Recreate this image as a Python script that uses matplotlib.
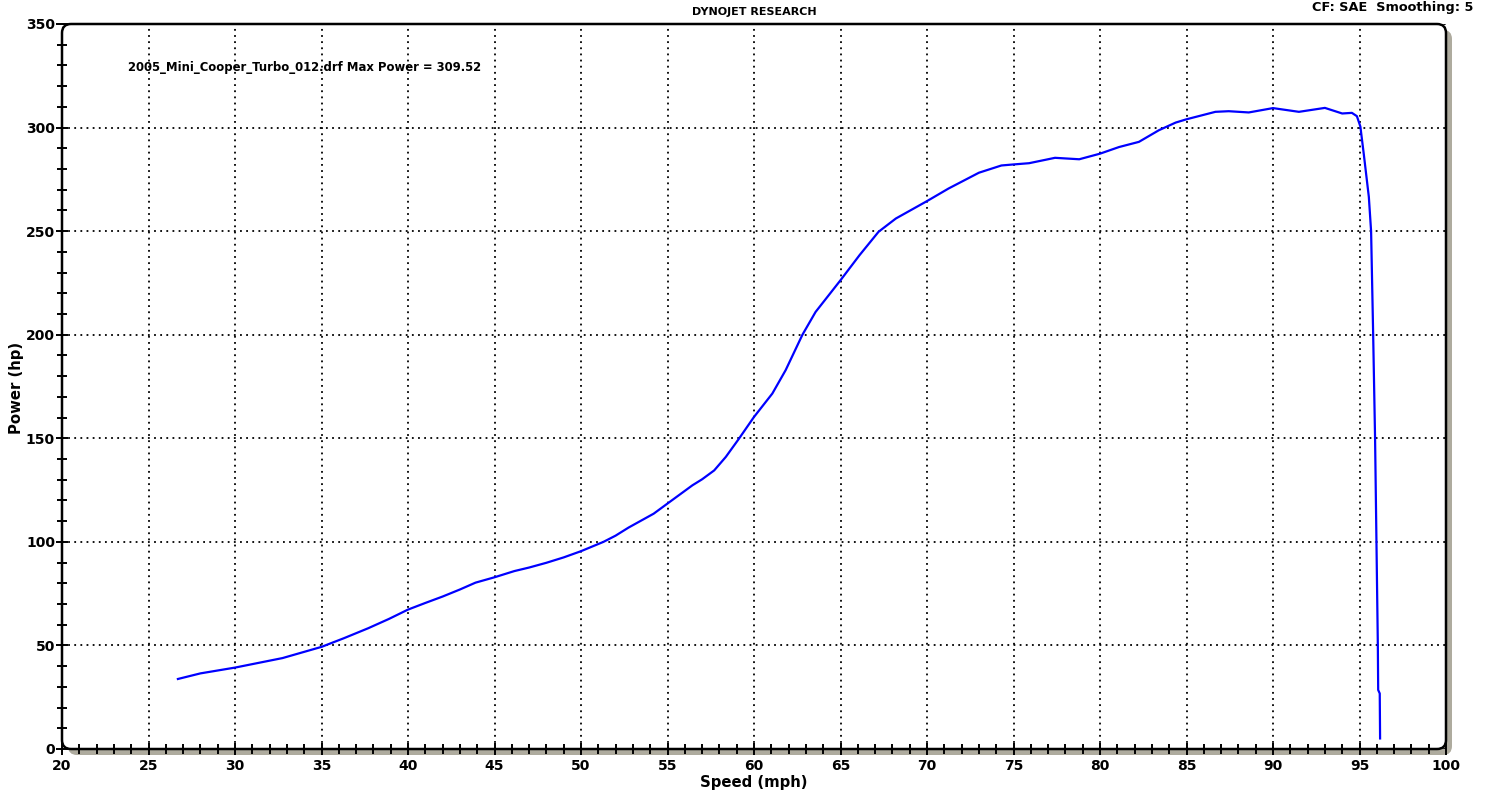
import matplotlib
matplotlib.use('Agg')
import matplotlib.pyplot as plt
import matplotlib.patches as mpatches
import matplotlib.transforms as mtransforms
from matplotlib.ticker import MultipleLocator

# speed (mph) vs power (hp)
speed = [26.7, 28.0, 30.0, 32.75, 35.0, 36.3, 37.7, 38.9, 40.0, 41.0,
         42.0, 43.0, 43.9, 45.0, 46.15, 47.0, 48.0, 49.0, 50.0, 51.3,
         52.0, 52.75, 54.2, 55.0, 56.44, 57.0, 57.7, 58.37, 59.13, 60.0,
         61.06, 61.83, 62.8, 63.56, 65.0, 66.1, 67.2, 68.2, 70.0, 71.25,
         73.0, 74.3, 75.0, 75.9, 77.4, 78.8, 80.0, 81.1, 82.25, 83.4,
         84.37, 85.0, 86.67, 87.44, 88.6, 90.0, 91.5, 93.0, 94.0, 94.56,
         94.85, 95.05, 95.25, 95.54, 95.67, 95.79, 95.9, 95.98, 96.06, 96.08,
         96.17, 96.19]
power = [33.8, 36.5, 39.3, 43.9, 49.3, 53.5, 58.3, 62.8, 67.3, 70.5,
         73.6, 77.0, 80.3, 82.9, 85.9, 87.6, 89.9, 92.5, 95.5, 100.0,
         103.0, 106.9, 113.6, 118.5, 127.3, 130.2, 134.5, 141.0, 149.8, 160.3,
         171.6, 182.9, 200.0, 211.0, 226.3, 238.4, 249.7, 256.1, 264.5, 270.6,
         278.2, 281.7, 282.2, 282.8, 285.4, 284.7, 287.4, 290.6, 293.1, 298.7,
         302.4, 304.0, 307.6, 307.9, 307.3, 309.4, 307.6, 309.5, 306.8, 307.1,
         305.5, 300.5, 287.0, 266.5, 250.0, 200.0, 150.0, 100.0, 50.0, 28.5,
         26.8, 5.1]

run_name = '2005_Mini_Cooper_Turbo_012.drf'
max_power = 309.52

W, H = 1486, 795
fig = plt.figure(figsize=(W / 100, H / 100), dpi=100)
# axes box in pixels: x 62..1446, y 24..749 (from top)
x0, x1, ytop, ybot = 62, 1446, 24, 749
ax = fig.add_axes([x0 / W, 1 - ybot / H, (x1 - x0) / W, (ybot - ytop) / H])
ax.set_facecolor('none')

ax.plot(speed, power, color='#0000ff', lw=1.6, zorder=2, clip_on=False)

ax.set_xlim(20, 100)
ax.set_ylim(0, 350)
ax.xaxis.set_major_locator(MultipleLocator(5))
ax.xaxis.set_minor_locator(MultipleLocator(1))
ax.yaxis.set_major_locator(MultipleLocator(50))
ax.yaxis.set_minor_locator(MultipleLocator(10))
ax.grid(True, which='major', color='black', linestyle=(0, (1, 2.4)), lw=1.3)

ax.tick_params(which='both', direction='inout', color='black', width=1.4,
               top=False, right=False)
ax.tick_params(which='major', length=8, labelsize=10)
ax.tick_params(which='minor', length=7)
ax.tick_params(axis='x', which='major', pad=3)
ax.tick_params(axis='y', which='major', pad=1)
for lab in ax.get_xticklabels() + ax.get_yticklabels():
    lab.set_fontweight('bold')
for s in ax.spines.values():
    s.set_visible(False)

# rounded frame with grey drop shadow, drawn in pixel coords
ident = mtransforms.IdentityTransform()
bx, by, bw, bh = x0, H - ybot, x1 - x0, ybot - ytop
shadow = mpatches.FancyBboxPatch((bx + 6, by - 6), bw, bh,
                                 boxstyle='round,pad=0,rounding_size=9',
                                 fc='#aeab9e', ec='none', transform=ident,
                                 clip_on=False, zorder=0)
face = mpatches.FancyBboxPatch((bx, by), bw, bh,
                               boxstyle='round,pad=0,rounding_size=9',
                               fc='white', ec='none', transform=ident,
                               clip_on=False, zorder=0.1)
frame = mpatches.FancyBboxPatch((bx, by), bw, bh,
                                boxstyle='round,pad=0,rounding_size=9',
                                fc='none', ec='black', lw=1.8, transform=ident,
                                clip_on=False, zorder=3)
for p in (shadow, face, frame):
    ax.add_patch(p)

fig.text(754 / W, 1 - 782 / H, 'Speed (mph)', ha='center', va='center',
         fontsize=10.7, fontweight='bold')
fig.text(17 / W, 1 - 388 / H, 'Power (hp)', ha='center', va='center',
         rotation=90, fontsize=10.7, fontweight='bold')

fig.text(754 / W, 1 - 12 / H, 'DYNOJET RESEARCH', ha='center', va='center',
         fontsize=8, fontweight='bold')
fig.text(1473 / W, 1 - 8 / H, 'CF: SAE  Smoothing: 5', ha='right', va='center',
         fontsize=9.3, fontweight='bold')
fig.text(128 / W, 1 - 68 / H, f'{run_name} Max Power = {max_power:.2f}',
         ha='left', va='center', fontsize=8.4, fontweight='bold')

fig.savefig('out.png', dpi=100)
plt.close(fig)
